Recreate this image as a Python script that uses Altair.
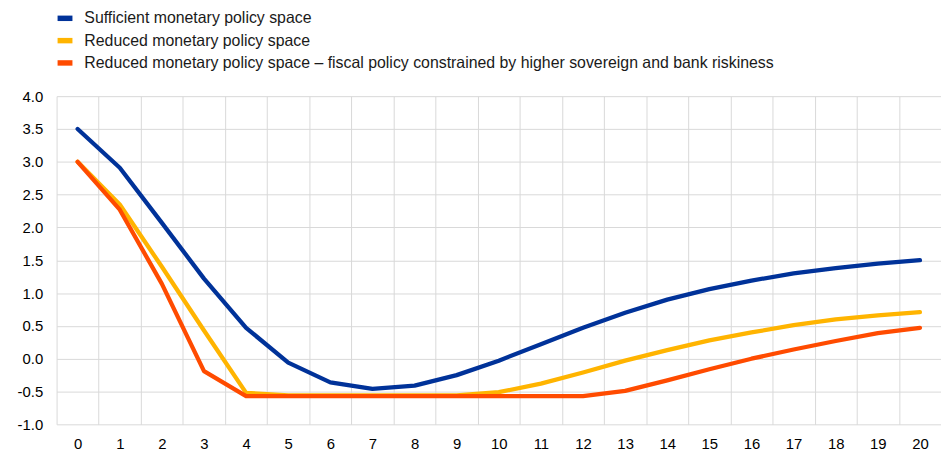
import altair as alt
import pandas as pd

periods = list(range(21))
series_names = [
    "Sufficient monetary policy space",
    "Reduced monetary policy space",
    "Reduced monetary policy space \u2013 fiscal policy constrained by higher sovereign and bank riskiness",
]
colors = ["#003299", "#FFB400", "#FF4B00"]

sufficient = [3.50, 2.91, 2.07, 1.22, 0.47, -0.06, -0.36, -0.46, -0.41, -0.25, -0.03,
              0.22, 0.47, 0.70, 0.90, 1.06, 1.19, 1.30, 1.38, 1.45, 1.50]
reduced = [3.00, 2.35, 1.40, 0.43, -0.52, -0.56, -0.56, -0.56, -0.56, -0.56, -0.51,
           -0.38, -0.21, -0.03, 0.13, 0.28, 0.40, 0.51, 0.60, 0.66, 0.71]
constrained = [3.00, 2.27, 1.14, -0.19, -0.57, -0.57, -0.57, -0.57, -0.57, -0.57, -0.57,
               -0.57, -0.57, -0.49, -0.33, -0.16, 0.00, 0.14, 0.27, 0.39, 0.47]

rows = []
for name, vals in zip(series_names, [sufficient, reduced, constrained]):
    for t, v in zip(periods, vals):
        rows.append({"t": t, "value": v, "series": name})
df = pd.DataFrame(rows)

FONT = "Liberation Sans"

chart = alt.Chart(df).mark_line(strokeWidth=4.3, strokeCap="round", strokeJoin="round").encode(
    x=alt.X(
        "t:O",
        bandPosition=0.5,
        scale=alt.Scale(type="band", paddingInner=0, paddingOuter=0),
        axis=alt.Axis(
            title=None, labelAngle=0, ticks=False, domain=False, grid=True,
            tickBand="extent", gridColor="#d9d9d9", gridWidth=1,
            labelFont=FONT, labelFontSize=15, labelColor="#000000", labelPadding=12,
        ),
    ),
    y=alt.Y(
        "value:Q",
        scale=alt.Scale(domain=[-1, 4], nice=False, zero=False),
        axis=alt.Axis(
            title=None, values=[-1, -0.5, 0, 0.5, 1, 1.5, 2, 2.5, 3, 3.5, 4],
            labelExpr="datum.value < 0 ? '-' + format(-datum.value, '.1f') : format(datum.value, '.1f')",
            ticks=False, domain=False, grid=True, gridColor="#d9d9d9", gridWidth=1,
            labelFont=FONT, labelFontSize=15, labelColor="#000000", labelPadding=14,
        ),
    ),
    color=alt.Color(
        "series:N",
        sort=series_names,
        scale=alt.Scale(domain=series_names, range=colors),
        legend=alt.Legend(
            title=None, orient="none", legendX=-2, legendY=-89,
            symbolType="stroke", symbolSize=225, symbolStrokeWidth=5.5,
            labelFont=FONT, labelFontSize=16, labelColor="#1a1a1a", labelLimit=900,
            rowPadding=-0.5, labelOffset=9,
        ),
    ),
).properties(
    width=892, height=331,
    autosize=alt.AutoSizeParams(type="none"),
    padding={"left": 49, "top": 87, "right": 0, "bottom": 27},
).configure_view(stroke=None)

chart.save("out.html", embed_options={"renderer": "svg", "actions": False})
